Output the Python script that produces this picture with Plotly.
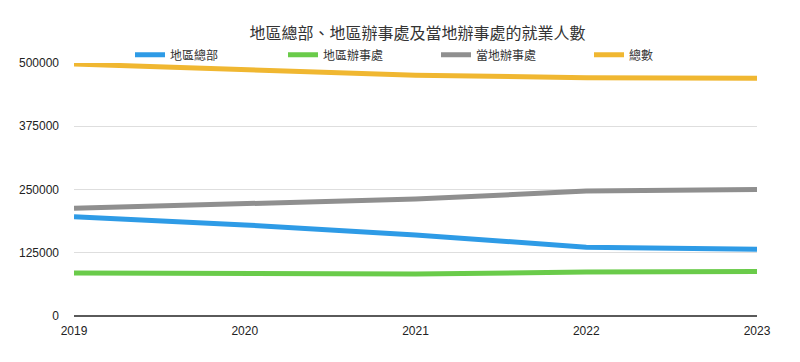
import plotly.graph_objects as go

years = [2019, 2020, 2021, 2022, 2023]
regional_hq = [196000, 180000, 160000, 136000, 132000]
regional_office = [85000, 85000, 83000, 87000, 88000]
local_office = [213000, 223000, 231000, 247000, 250000]
total = [498000, 486000, 476000, 471000, 470000]

series_names = ["地區總部", "地區辦事處", "當地辦事處", "總數"]
colors = ["#2e9be6", "#6acb4a", "#8f8f8f", "#f0b731"]
tick_vals = [0, 125000, 250000, 375000, 500000]
tick_text = ["0", "125000", "250000", "375000", "500000"]

font_family = "Noto Sans CJK TC, Noto Sans, sans-serif"
num_font = "Liberation Sans, Arial, sans-serif"

fig = go.Figure()
for name, vals, c in zip(series_names, [regional_hq, regional_office, local_office, total], colors):
    fig.add_trace(go.Scatter(x=years, y=vals, name=name, mode="lines",
                             line=dict(color=c, width=5)))

fig.update_layout(
    width=800, height=362,
    paper_bgcolor="white", plot_bgcolor="white",
    margin=dict(l=74, r=43, t=63, b=46),
    title=dict(text="地區總部、地區辦事處及當地辦事處的就業人數",
               x=0.522, xanchor="center", y=0.908, yanchor="middle",
               font=dict(family=font_family, size=16, color="#333333")),
    legend=dict(orientation="h", x=0.082, xanchor="left", y=0.975, yanchor="bottom",
                itemwidth=30, entrywidth=108, entrywidthmode="pixels",
                font=dict(family=font_family, size=12, color="#333333"),
                bgcolor="rgba(0,0,0,0)"),
    font=dict(family=font_family, size=12, color="#333333"),
    showlegend=True,
)
fig.update_xaxes(range=[2019, 2023], tickvals=years, ticktext=[str(y) for y in years],
                 showgrid=False, zeroline=False, showline=False, ticks="",
                 ticklabelstandoff=6,
                 tickfont=dict(family=num_font, size=12, color="#222"))
fig.update_yaxes(range=[0, 500000], tickvals=tick_vals, ticktext=tick_text,
                 showgrid=True, gridcolor="#dedede", gridwidth=1,
                 zeroline=True, zerolinecolor="#5a5a5a", zerolinewidth=2,
                 showline=False, ticks="", ticklabelstandoff=14,
                 tickfont=dict(family=num_font, size=12, color="#222"))

fig.write_html("out.html", config={"displayModeBar": False},
               post_script="document.body.style.margin='0';")
